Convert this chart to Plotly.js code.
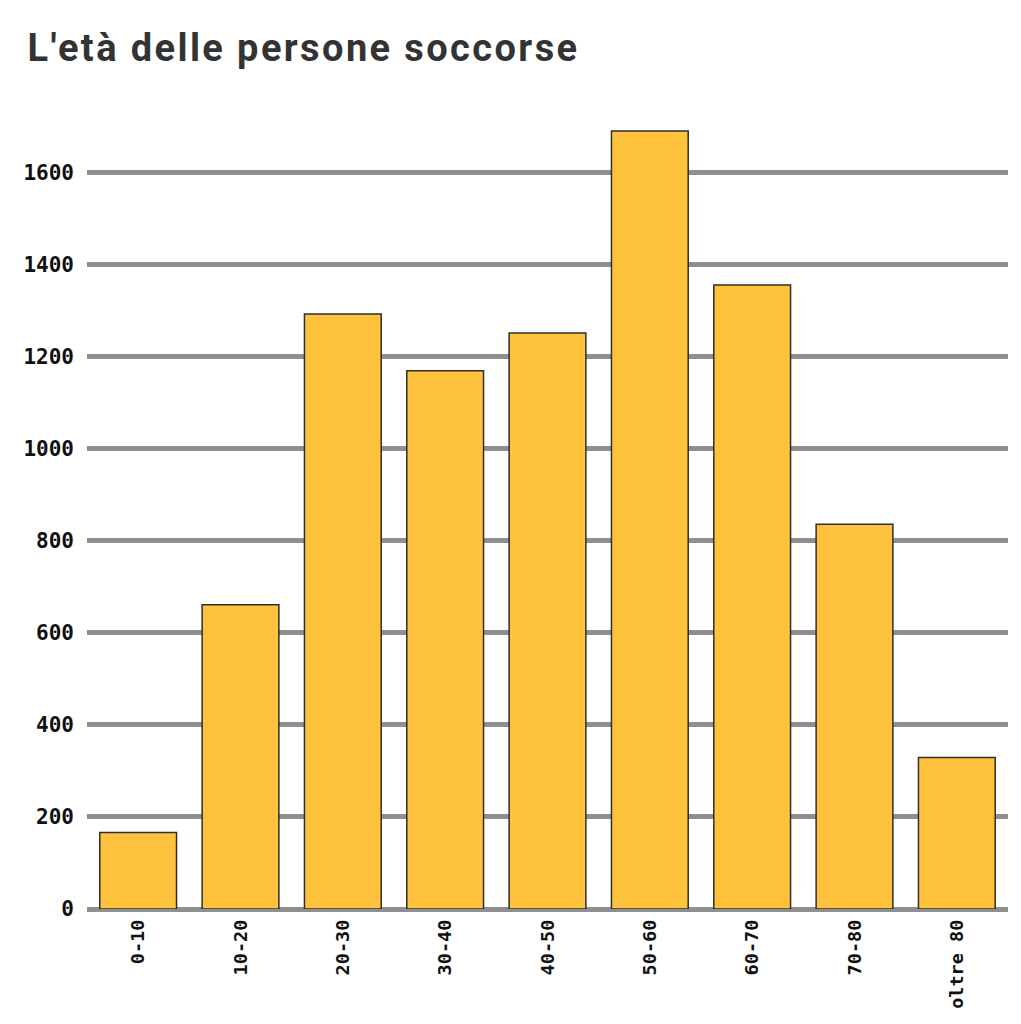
<!DOCTYPE html>
<html>
<head>
<meta charset="utf-8">
<script src="https://cdn.plot.ly/plotly-3.0.1.min.js"></script>
<style>
html,body{margin:0;padding:0;background:#fff;}
#chart{width:1021px;height:1024px;}
#chart .gtitle{letter-spacing:2.4px;}
</style>
</head>
<body>
<div id="chart"></div>
<script>
const categories = ["0-10","10-20","20-30","30-40","40-50","50-60","60-70","70-80","oltre 80"];
const values = [166, 661, 1293, 1170, 1252, 1691, 1356, 836, 329];
const titleText = "L'età delle persone soccorse";

Plotly.newPlot("chart", [{
  type: "bar",
  x: categories,
  y: values,
  marker: {color: "#FFC23C", line: {color: "#2e2e2e", width: 1.5}},
  hoverinfo: "x+y"
}], {
  width: 1021,
  height: 1024,
  paper_bgcolor: "#fff",
  plot_bgcolor: "#fff",
  margin: {l: 87, r: 13, t: 90, b: 115},
  bargap: 0.25,
  showlegend: false,
  title: {
    text: titleText,
    x: 0.027, xref: "container", xanchor: "left",
    y: 0.953, yref: "container", yanchor: "middle",
    font: {family: "Roboto", size: 38, color: "#333", weight: 700}
  },
  xaxis: {
    type: "category",
    tickangle: -90,
    tickfont: {family: "DejaVu Sans Mono", size: 18.5, color: "#111", weight: 700},
    showgrid: false,
    showline: false,
    ticks: "",
    ticklabelstandoff: 6
  },
  yaxis: {
    range: [0, 1780],
    dtick: 200,
    tick0: 0,
    tickfont: {family: "DejaVu Sans Mono", size: 21, color: "#111", weight: 700},
    showgrid: true,
    gridcolor: "#8f8f8f",
    gridwidth: 5,
    zeroline: true,
    zerolinecolor: "#8f8f8f",
    zerolinewidth: 5,
    showline: false,
    ticks: "",
    ticklabelstandoff: 12
  }
}, {displayModeBar: false});
</script>
</body>
</html>
